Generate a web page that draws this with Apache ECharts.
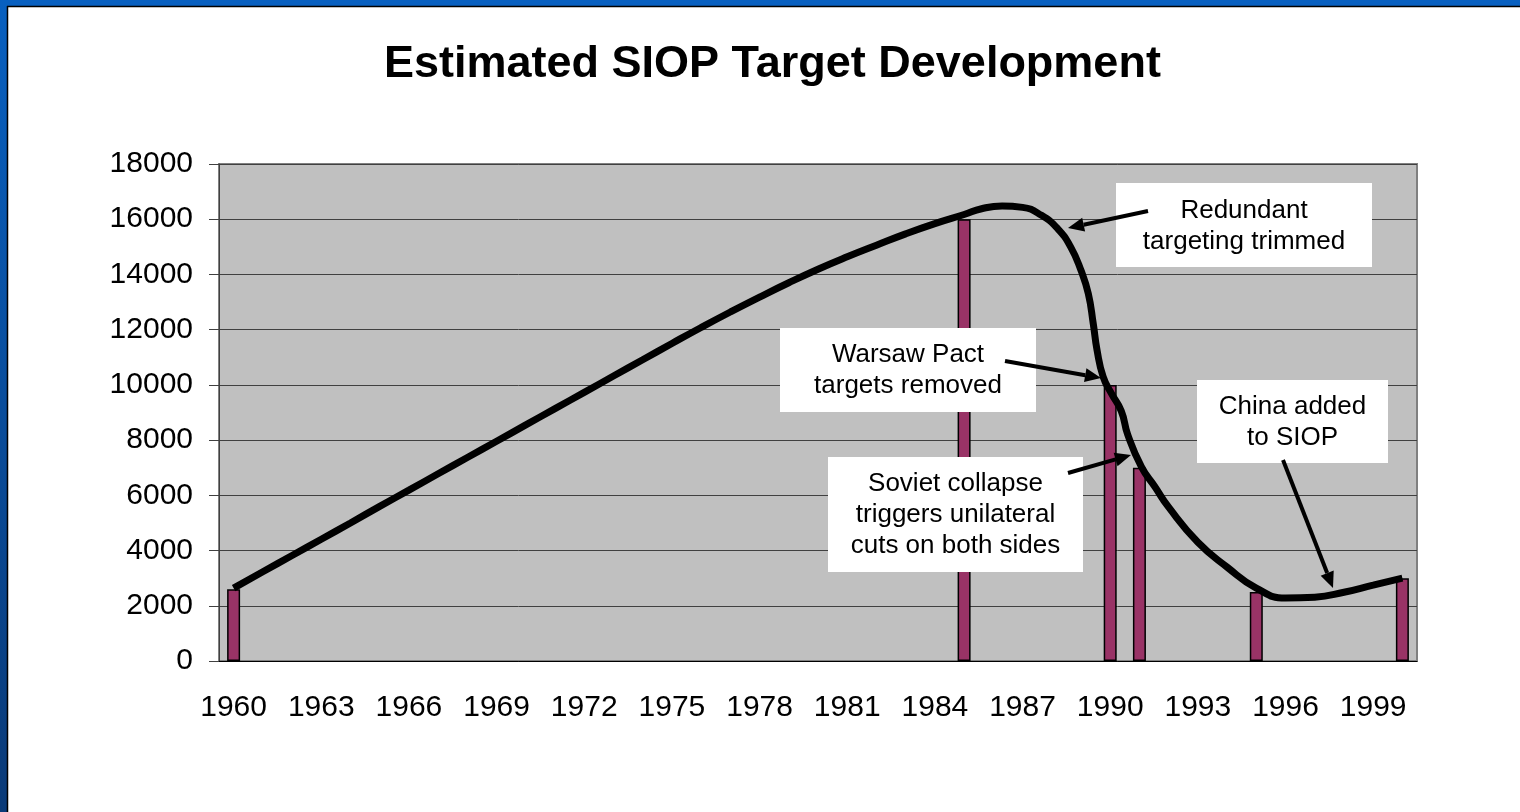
<!DOCTYPE html>
<html>
<head>
<meta charset="utf-8">
<title>Estimated SIOP Target Development</title>
<script src="https://cdn.jsdelivr.net/npm/echarts@6/dist/echarts.min.js"></script>
<style>
  html, body { margin: 0; padding: 0; background: #fff; }
  #chart { width: 1520px; height: 812px; }
</style>
</head>
<body>
<div id="chart"></div>
<script>
// years on the category axis
const years = [];
for (let y = 1960; y <= 2000; y++) years.push(String(y));

// bars: estimated SIOP targets in given years
const barYears = ['1960', '1985', '1990', '1991', '1995', '2000'];
const barValues = [2600, 16000, 10000, 7000, 2500, 3000];

// smoothed trend line (year, targets);
// denser where the curve drops steeply
const trendYears = [
  1960, 1961, 1962, 1963, 1964, 1965, 1966, 1967, 1968, 1969,
  1970, 1971, 1972, 1973, 1974, 1975, 1976, 1977, 1978, 1979,
  1980, 1981, 1982, 1983, 1984, 1985, 1985.6, 1986.3, 1987, 1987.65,
  1988.2, 1988.65, 1989, 1989.25, 1989.42, 1989.55, 1989.76, 1990.04, 1990.38, 1990.6,
  1991.07, 1991.53, 1992, 1993, 1994, 1995, 1996, 1997, 1998,
  1999, 2000
];
const trendValues = [
  2640, 3230, 3820, 4410, 5000, 5600, 6190, 6780, 7370, 7960,
  8550, 9140, 9730, 10320, 10910, 11500, 12080, 12640, 13180, 13700,
  14190, 14640, 15060, 15470, 15840, 16170, 16380, 16480, 16430, 16140,
  15660, 14990, 14150, 13310, 12220, 11260, 10290, 9690, 9050, 8200,
  7030, 6310, 5570, 4300, 3400, 2640, 2280, 2310, 2490,
  2750, 3000
];

const yTicks = { min: 0, max: 18000, interval: 2000 };

// bar values laid out on the full year axis
const barData = years.map(y => {
  const i = barYears.indexOf(y);
  return i >= 0 ? barValues[i] : '-';
});
const trendData = trendYears.map((y, i) => [y, trendValues[i]]);

const FONT = '"Liberation Sans", Arial, sans-serif';

// white annotation box with centred lines of text
function note(x, y, w, h, lines, textY) {
  return [
    { type: 'rect', z: 100, shape: { x: x, y: y, width: w, height: h }, style: { fill: '#fff' } },
    {
      type: 'text', z: 101, x: x + w / 2, y: textY,
      style: {
        text: lines.join('\n'), font: '26px ' + FONT, fill: '#000',
        align: 'center', verticalAlign: 'top', lineHeight: 31
      }
    }
  ];
}

// black arrow with filled head at (x2, y2)
function arrow(x1, y1, x2, y2) {
  const a = Math.atan2(y2 - y1, x2 - x1);
  const L = 16, W = 7;
  const bx = x2 - L * Math.cos(a), by = y2 - L * Math.sin(a);
  const px = -Math.sin(a) * W, py = Math.cos(a) * W;
  return [
    { type: 'line', z: 102, shape: { x1: x1, y1: y1, x2: bx, y2: by }, style: { stroke: '#000', lineWidth: 4 } },
    { type: 'polygon', z: 102, shape: { points: [[x2, y2], [bx + px, by + py], [bx - px, by - py]] }, style: { fill: '#000' } }
  ];
}

const chart = echarts.init(document.getElementById('chart'));

const option = {
  animation: false,
  backgroundColor: '#fff',
  title: {
    text: 'Estimated SIOP Target Development',
    left: 379,
    top: 37,
    textStyle: { fontFamily: FONT, fontSize: 45, fontWeight: 'bold', color: '#000' }
  },
  grid: {
    left: 219, top: 164, right: 103, bottom: 151,
    show: true, backgroundColor: '#c0c0c0', borderColor: '#808080', borderWidth: 2
  },
  xAxis: [
    {
      type: 'category',
      data: years,
      boundaryGap: true,
      axisLine: { lineStyle: { color: '#000', width: 1 } },
      axisTick: { interval: 0, length: 10, lineStyle: { color: '#000' } },
      axisLabel: { interval: 2, margin: 32, fontFamily: FONT, fontSize: 30, color: '#000' },
      splitLine: { show: false }
    },
    {
      // hidden numeric year axis for the trend line, aligned with the categories
      type: 'value',
      min: 1959.5, max: 2000.5,
      show: false,
      splitLine: { show: false }
    }
  ],
  yAxis: {
    type: 'value',
    min: yTicks.min, max: yTicks.max, interval: yTicks.interval,
    axisLine: { show: true, lineStyle: { color: '#404040', width: 1 } },
    axisTick: { show: true, length: 10, lineStyle: { color: '#404040' } },
    axisLabel: {
      margin: 26, fontFamily: FONT, fontSize: 30, color: '#000',
      formatter: v => String(v)
    },
    splitLine: { lineStyle: { color: '#404040', width: 1 } }
  },
  series: [
    {
      type: 'bar',
      xAxisIndex: 0,
      data: barData,
      barWidth: 13,
      itemStyle: { color: '#993366', borderColor: '#000', borderWidth: 1.5 }
    },
    {
      type: 'line',
      xAxisIndex: 1,
      data: trendData,
      smooth: 0.5,
      showSymbol: false,
      symbol: 'none',
      lineStyle: { color: '#000', width: 7 },
      z: 5
    }
  ],
  graphic: [
    // slide frame
    { type: 'rect', z: 200, shape: { x: 0, y: 0, width: 1520, height: 6 }, style: { fill: '#0860c0' } },
    {
      type: 'rect', z: 200, shape: { x: 0, y: 0, width: 7, height: 812 },
      style: {
        fill: new echarts.graphic.LinearGradient(0, 0, 0, 1, [
          { offset: 0, color: '#0860c0' }, { offset: 1, color: '#0a3a78' }
        ])
      }
    },
    { type: 'line', z: 201, shape: { x1: 7, y1: 6.5, x2: 1520, y2: 6.5 }, style: { stroke: '#000', lineWidth: 1.5 } },
    { type: 'line', z: 201, shape: { x1: 7.5, y1: 6, x2: 7.5, y2: 812 }, style: { stroke: '#000', lineWidth: 1.5 } },
    // annotations
    ...note(1116, 183, 256, 84, ['Redundant', 'targeting trimmed'], 195),
    ...arrow(1148, 211, 1068, 228),
    ...note(780, 328, 256, 84, ['Warsaw Pact', 'targets removed'], 339),
    ...arrow(1005, 361, 1101, 378),
    ...note(828, 457, 255, 115, ['Soviet collapse', 'triggers unilateral', 'cuts on both sides'], 468),
    ...arrow(1068, 473, 1131, 455),
    ...note(1197, 380, 191, 83, ['China added', 'to SIOP'], 391),
    ...arrow(1283, 460, 1333, 588)
  ]
};

chart.setOption(option);
</script>
</body>
</html>
